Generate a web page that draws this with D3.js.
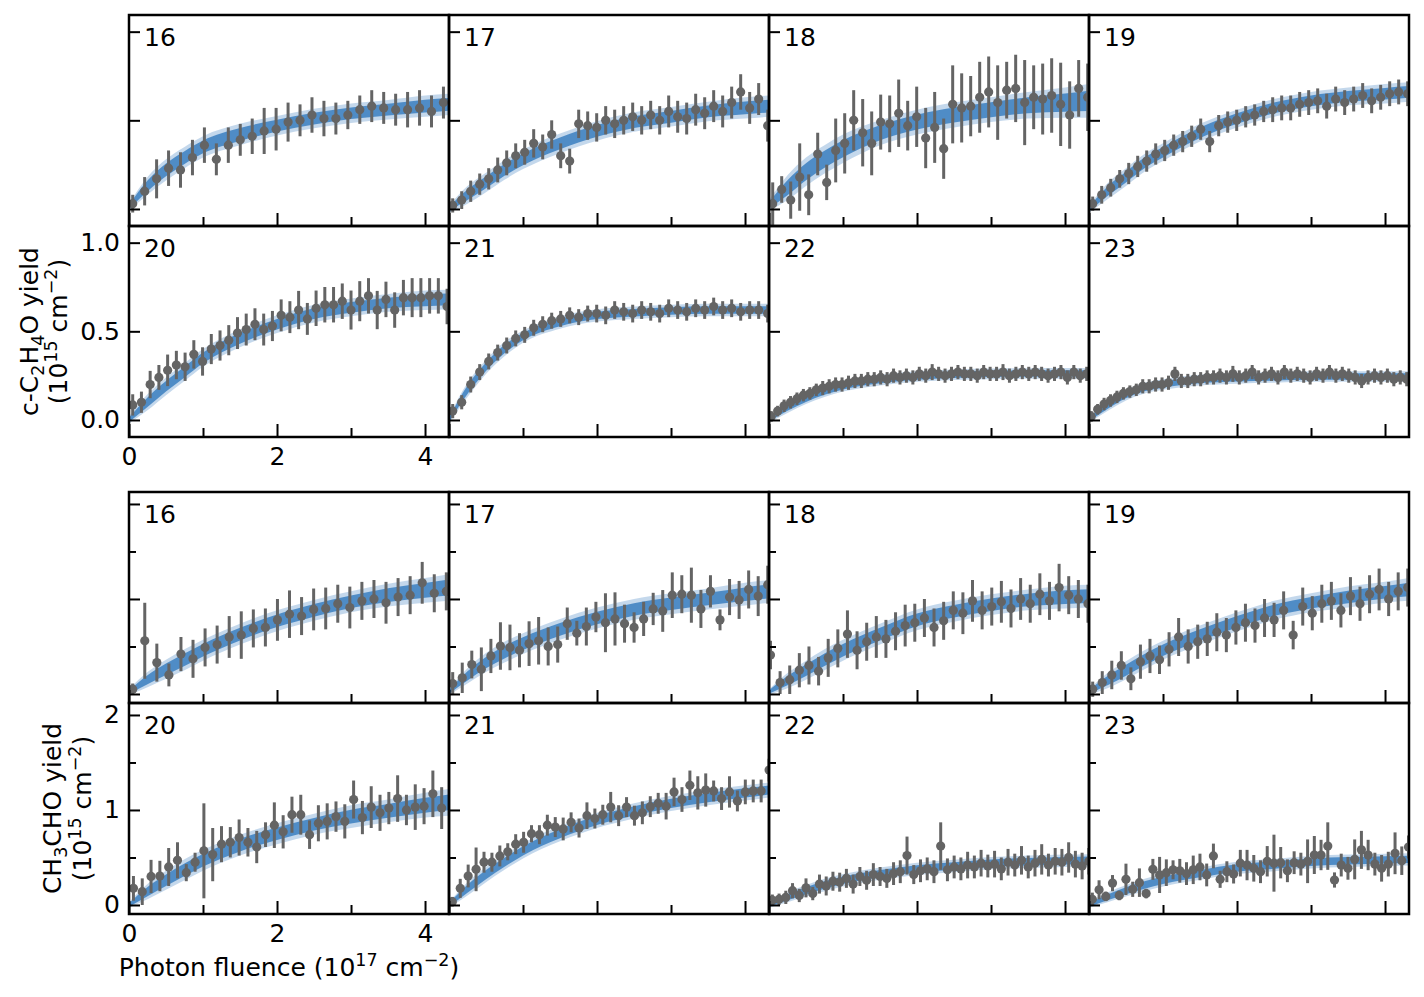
<!DOCTYPE html>
<meta charset="utf-8">
<script src="https://d3js.org/d3.v7.min.js"></script>
<style>
body { margin: 0; background: #fff; }
text { font-family: "DejaVu Sans", sans-serif; fill: #000; }
</style>
<body>
<div id="my_dataviz"></div>
<script>
// panel labels
var panelNames = ["16", "17", "18", "19", "20", "21", "22", "23"];
// x positions where the fitted band is sampled
var fitKnots = [0, 0.25, 0.5, 0.75, 1, 1.5, 2, 2.5, 3, 3.5, 4, 4.32];

// ---- c-C2H4O yield ----
var c2h4oX0 = [0.05, 0.05, 0.05, 0.05, 0.05, 0.05, 0.03, 0.03];
var c2h4oStep = [0.1615, 0.1216, 0.1216, 0.1216, 0.118, 0.1216, 0.087, 0.087];
var c2h4oYield = [
  [0.03,0.10,0.17,0.23,0.22,0.29,0.36,0.28,0.36,0.39,0.41,0.44,0.45,0.49,0.50,0.53,0.51,0.51,0.53,0.56,0.58,0.57,0.56,0.56,0.57,0.55,0.60],
  [0.02,0.05,0.10,0.14,0.17,0.22,0.26,0.30,0.32,0.37,0.35,0.42,0.30,0.27,0.48,0.47,0.46,0.50,0.48,0.50,0.52,0.50,0.53,0.50,0.55,0.52,0.51,0.56,0.54,0.58,0.55,0.60,0.66,0.57,0.62,0.47],
  [0.03,0.11,0.05,0.18,0.08,0.31,0.15,0.33,0.37,0.50,0.43,0.37,0.49,0.48,0.54,0.47,0.52,0.40,0.46,0.34,0.59,0.57,0.58,0.63,0.66,0.60,0.67,0.68,0.60,0.63,0.62,0.64,0.59,0.53,0.68,0.63],
  [0.03,0.08,0.12,0.17,0.20,0.24,0.27,0.31,0.33,0.36,0.38,0.41,0.45,0.38,0.47,0.49,0.50,0.52,0.53,0.55,0.56,0.57,0.57,0.59,0.60,0.61,0.58,0.62,0.60,0.62,0.64,0.61,0.63,0.65,0.66,0.65],
  [0.085,0.10,0.20,0.24,0.28,0.31,0.30,0.37,0.33,0.40,0.42,0.45,0.49,0.51,0.54,0.51,0.53,0.59,0.58,0.62,0.57,0.63,0.65,0.65,0.67,0.62,0.67,0.70,0.62,0.68,0.62,0.69,0.69,0.69,0.70,0.70,0.64],
  [0.05,0.10,0.20,0.27,0.33,0.38,0.42,0.46,0.48,0.52,0.54,0.56,0.57,0.59,0.58,0.60,0.60,0.59,0.62,0.61,0.60,0.62,0.61,0.60,0.63,0.62,0.61,0.63,0.62,0.64,0.62,0.63,0.61,0.62,0.62,0.60],
  [0.02,0.05,0.08,0.10,0.12,0.14,0.15,0.17,0.18,0.19,0.20,0.20,0.21,0.22,0.22,0.23,0.23,0.24,0.23,0.25,0.24,0.25,0.24,0.26,0.25,0.27,0.26,0.25,0.26,0.27,0.26,0.26,0.25,0.27,0.26,0.26,0.27,0.25,0.26,0.27,0.26,0.27,0.26,0.25,0.26,0.27,0.24,0.27,0.25,0.26],
  [0.02,0.06,0.09,0.11,0.13,0.15,0.16,0.17,0.19,0.19,0.20,0.20,0.21,0.26,0.22,0.22,0.23,0.23,0.24,0.24,0.25,0.24,0.26,0.24,0.25,0.27,0.24,0.25,0.26,0.24,0.27,0.25,0.26,0.25,0.24,0.26,0.25,0.27,0.25,0.26,0.25,0.24,0.22,0.24,0.25,0.24,0.25,0.23,0.24,0.23]
];
var c2h4oErr = [
  [0.05,0.08,0.11,0.10,0.10,0.10,0.10,0.09,0.10,0.09,0.10,0.13,0.12,0.11,0.09,0.10,0.10,0.09,0.08,0.08,0.09,0.09,0.09,0.10,0.10,0.09,0.09],
  [0.04,0.05,0.06,0.06,0.06,0.07,0.07,0.07,0.07,0.08,0.07,0.08,0.07,0.07,0.08,0.08,0.08,0.08,0.08,0.08,0.08,0.08,0.08,0.08,0.09,0.09,0.09,0.09,0.09,0.09,0.09,0.09,0.10,0.09,0.09,0.09],
  [0.12,0.075,0.105,0.19,0.115,0.12,0.10,0.18,0.17,0.17,0.19,0.18,0.155,0.16,0.19,0.14,0.17,0.17,0.20,0.17,0.22,0.195,0.17,0.20,0.20,0.21,0.16,0.19,0.24,0.18,0.20,0.21,0.235,0.19,0.16,0.19],
  [0.04,0.05,0.05,0.05,0.06,0.06,0.06,0.06,0.06,0.06,0.06,0.06,0.06,0.06,0.06,0.06,0.06,0.06,0.06,0.06,0.07,0.07,0.07,0.07,0.07,0.07,0.07,0.07,0.07,0.07,0.07,0.07,0.07,0.07,0.07,0.07],
  [0.06,0.06,0.077,0.07,0.089,0.08,0.08,0.08,0.08,0.085,0.085,0.085,0.09,0.09,0.09,0.09,0.085,0.09,0.09,0.108,0.09,0.10,0.10,0.10,0.10,0.11,0.113,0.10,0.108,0.10,0.10,0.10,0.11,0.11,0.10,0.10,0.10],
  [0.04,0.04,0.045,0.045,0.045,0.045,0.045,0.045,0.045,0.045,0.045,0.045,0.045,0.045,0.045,0.045,0.05,0.05,0.05,0.05,0.05,0.05,0.05,0.05,0.05,0.05,0.05,0.05,0.05,0.05,0.05,0.05,0.05,0.05,0.05,0.05],
  [0.03,0.03,0.035,0.035,0.035,0.035,0.035,0.035,0.04,0.04,0.04,0.04,0.04,0.04,0.04,0.04,0.04,0.04,0.04,0.04,0.04,0.04,0.04,0.04,0.04,0.045,0.04,0.04,0.04,0.04,0.04,0.04,0.04,0.04,0.04,0.04,0.045,0.04,0.04,0.04,0.04,0.04,0.04,0.04,0.04,0.04,0.04,0.04,0.04,0.04],
  [0.03,0.03,0.035,0.035,0.035,0.035,0.035,0.035,0.04,0.04,0.04,0.04,0.04,0.04,0.04,0.04,0.04,0.04,0.04,0.04,0.04,0.04,0.045,0.04,0.04,0.04,0.04,0.04,0.04,0.04,0.04,0.04,0.04,0.04,0.04,0.04,0.04,0.04,0.04,0.04,0.04,0.04,0.04,0.04,0.04,0.04,0.04,0.04,0.04,0.04]
];
var c2h4oFitMid = [
  [0.01,0.13,0.22,0.29,0.35,0.42,0.47,0.51,0.54,0.56,0.58,0.59],
  [0.00,0.08,0.15,0.22,0.28,0.37,0.44,0.49,0.52,0.55,0.57,0.58],
  [0.02,0.12,0.21,0.28,0.34,0.43,0.49,0.53,0.56,0.585,0.60,0.61],
  [0.00,0.10,0.18,0.26,0.32,0.43,0.51,0.57,0.61,0.635,0.65,0.66],
  [0.00,0.10,0.19,0.27,0.35,0.46,0.54,0.60,0.635,0.66,0.675,0.68],
  [0.00,0.17,0.30,0.40,0.47,0.55,0.59,0.605,0.615,0.62,0.62,0.62],
  [0.00,0.07,0.12,0.16,0.19,0.225,0.245,0.255,0.26,0.262,0.263,0.263],
  [0.00,0.08,0.14,0.18,0.20,0.225,0.235,0.24,0.245,0.245,0.245,0.245]
];
var c2h4oFitHw = [
  [0.02,0.05,0.06,0.06,0.06,0.06,0.055,0.055,0.055,0.055,0.06,0.06],
  [0.02,0.05,0.055,0.055,0.055,0.055,0.055,0.055,0.055,0.055,0.06,0.06],
  [0.03,0.07,0.08,0.08,0.08,0.07,0.07,0.07,0.07,0.075,0.085,0.095],
  [0.02,0.045,0.05,0.05,0.05,0.05,0.05,0.05,0.05,0.05,0.055,0.055],
  [0.02,0.045,0.05,0.05,0.05,0.05,0.05,0.05,0.05,0.05,0.055,0.055],
  [0.02,0.04,0.04,0.04,0.035,0.035,0.035,0.035,0.035,0.035,0.035,0.035],
  [0.015,0.03,0.03,0.03,0.03,0.03,0.03,0.03,0.03,0.03,0.03,0.03],
  [0.015,0.03,0.03,0.03,0.03,0.03,0.03,0.03,0.03,0.03,0.03,0.03]
];

// ---- CH3CHO yield ----
var ch3choX0 = [0.05, 0.05, 0.02, 0.05, 0.06, 0.045, 0.045, 0.045];
var ch3choStep = [0.163, 0.129, 0.13, 0.129, 0.119, 0.107, 0.091, 0.0909];
var ch3choYield = [
  [0.05,0.56,0.33,0.20,0.42,0.37,0.49,0.52,0.60,0.62,0.69,0.70,0.78,0.84,0.82,0.89,0.90,0.95,0.91,0.98,1.00,0.96,1.02,1.04,1.17,1.06,1.08],
  [0.11,0.17,0.31,0.26,0.40,0.505,0.49,0.46,0.53,0.56,0.50,0.52,0.74,0.64,0.71,0.81,0.75,0.79,0.74,0.70,0.79,0.895,0.874,1.04,1.05,1.04,0.895,1.08,0.78,1.02,0.99,1.10,1.03,1.15],
  [0.41,0.12,0.15,0.25,0.30,0.24,0.38,0.48,0.63,0.46,0.55,0.60,0.58,0.66,0.72,0.75,0.80,0.70,0.77,0.88,0.85,0.98,0.88,0.92,0.97,0.90,1.00,0.95,1.05,0.98,1.12,1.04,1.00,0.95],
  [0.05,0.12,0.20,0.30,0.16,0.34,0.40,0.36,0.47,0.60,0.50,0.55,0.58,0.65,0.62,0.70,0.75,0.72,0.80,0.78,0.88,0.62,0.92,0.85,0.95,0.98,0.88,1.03,0.95,1.05,1.10,1.00,1.08,1.12],
  [0.175,0.14,0.30,0.305,0.40,0.47,0.34,0.45,0.57,0.53,0.64,0.66,0.71,0.66,0.61,0.74,0.84,0.77,0.95,0.95,0.74,0.86,0.88,0.93,0.88,1.11,0.92,1.03,0.97,1.02,1.12,1.00,1.03,1.04,1.17,1.02],
  [0.035,0.175,0.305,0.375,0.45,0.45,0.516,0.56,0.64,0.66,0.75,0.74,0.84,0.82,0.80,0.87,0.81,0.94,0.91,0.95,1.03,0.94,1.03,0.94,0.97,1.035,1.07,1.04,1.19,1.11,1.26,1.18,1.21,1.20,1.12,1.19,1.095,1.19,1.20,1.20,1.42],
  [0.05,0.06,0.08,0.15,0.10,0.18,0.12,0.22,0.20,0.25,0.24,0.28,0.22,0.30,0.26,0.32,0.30,0.28,0.33,0.35,0.52,0.32,0.36,0.38,0.35,0.62,0.37,0.40,0.38,0.42,0.40,0.44,0.41,0.43,0.38,0.45,0.42,0.47,0.40,0.44,0.48,0.42,0.46,0.45,0.50,0.43,0.41,0.46],
  [0.06,0.16,0.09,0.23,0.10,0.27,0.165,0.235,0.12,0.375,0.316,0.34,0.37,0.36,0.33,0.37,0.40,0.316,0.516,0.27,0.35,0.326,0.44,0.42,0.386,0.35,0.46,0.44,0.445,0.36,0.445,0.43,0.46,0.526,0.526,0.62,0.263,0.42,0.386,0.48,0.58,0.526,0.43,0.386,0.43,0.544,0.466,0.61]
];
var ch3choErr = [
  [0.06,0.40,0.20,0.12,0.18,0.20,0.20,0.20,0.22,0.25,0.20,0.20,0.22,0.25,0.20,0.22,0.22,0.20,0.22,0.20,0.20,0.22,0.20,0.20,0.22,0.20,0.20],
  [0.12,0.16,0.146,0.23,0.18,0.25,0.24,0.18,0.235,0.25,0.20,0.19,0.17,0.13,0.20,0.16,0.31,0.28,0.20,0.16,0.18,0.17,0.22,0.24,0.20,0.29,0.20,0.17,0.11,0.19,0.20,0.20,0.21,0.20],
  [0.15,0.12,0.15,0.18,0.2,0.15,0.2,0.2,0.25,0.2,0.2,0.22,0.2,0.2,0.22,0.2,0.2,0.2,0.2,0.2,0.22,0.22,0.2,0.2,0.22,0.2,0.22,0.2,0.22,0.2,0.25,0.2,0.2,0.2],
  [0.08,0.12,0.15,0.15,0.12,0.18,0.18,0.15,0.18,0.2,0.18,0.18,0.18,0.2,0.18,0.18,0.2,0.18,0.2,0.18,0.2,0.15,0.2,0.18,0.2,0.2,0.18,0.2,0.18,0.2,0.22,0.18,0.2,0.2],
  [0.13,0.14,0.175,0.16,0.20,0.19,0.09,0.10,0.50,0.28,0.19,0.16,0.19,0.15,0.17,0.13,0.24,0.175,0.19,0.21,0.15,0.19,0.19,0.16,0.18,0.20,0.175,0.22,0.19,0.17,0.245,0.16,0.24,0.19,0.245,0.22],
  [0.05,0.10,0.12,0.23,0.11,0.10,0.11,0.09,0.105,0.11,0.09,0.10,0.11,0.105,0.12,0.105,0.10,0.14,0.105,0.105,0.16,0.11,0.105,0.105,0.12,0.11,0.11,0.14,0.15,0.13,0.155,0.175,0.175,0.11,0.12,0.165,0.11,0.13,0.12,0.12,0.12],
  [0.06,0.06,0.07,0.08,0.07,0.1,0.07,0.1,0.1,0.1,0.1,0.1,0.1,0.1,0.1,0.12,0.1,0.1,0.12,0.12,0.2,0.1,0.12,0.12,0.12,0.25,0.12,0.12,0.12,0.14,0.12,0.14,0.12,0.14,0.12,0.14,0.12,0.15,0.12,0.14,0.16,0.12,0.14,0.14,0.16,0.14,0.14,0.14],
  [0.07,0.10,0.05,0.085,0.05,0.165,0.08,0.15,0.05,0.11,0.19,0.14,0.10,0.125,0.12,0.15,0.14,0.12,0.13,0.09,0.11,0.10,0.14,0.16,0.14,0.12,0.16,0.30,0.165,0.12,0.12,0.12,0.23,0.20,0.16,0.25,0.08,0.12,0.12,0.21,0.20,0.16,0.12,0.14,0.13,0.22,0.15,0.12]
];
var ch3choFitMid = [
  [0.02,0.15,0.26,0.36,0.46,0.63,0.77,0.88,0.97,1.04,1.09,1.12],
  [0.02,0.19,0.33,0.44,0.53,0.68,0.80,0.89,0.95,1.00,1.05,1.08],
  [0.02,0.14,0.25,0.36,0.46,0.63,0.78,0.87,0.94,0.99,1.02,1.03],
  [0.02,0.14,0.25,0.36,0.46,0.62,0.76,0.88,0.96,1.02,1.07,1.10],
  [0.00,0.14,0.26,0.37,0.47,0.63,0.75,0.85,0.93,0.99,1.05,1.08],
  [0.00,0.17,0.32,0.45,0.57,0.75,0.89,0.99,1.07,1.13,1.18,1.21],
  [0.00,0.08,0.15,0.21,0.26,0.33,0.38,0.41,0.44,0.455,0.465,0.47],
  [0.00,0.08,0.15,0.21,0.26,0.33,0.39,0.42,0.45,0.465,0.475,0.48]
];
var ch3choFitHw = [
  [0.03,0.08,0.10,0.11,0.11,0.11,0.11,0.11,0.11,0.12,0.13,0.14],
  [0.03,0.08,0.10,0.11,0.11,0.11,0.11,0.11,0.11,0.11,0.12,0.12],
  [0.03,0.08,0.10,0.11,0.11,0.11,0.11,0.11,0.11,0.11,0.12,0.12],
  [0.03,0.08,0.095,0.10,0.10,0.10,0.10,0.10,0.10,0.11,0.11,0.12],
  [0.03,0.08,0.10,0.11,0.11,0.11,0.11,0.11,0.12,0.12,0.13,0.14],
  [0.03,0.07,0.08,0.08,0.08,0.08,0.08,0.08,0.08,0.08,0.08,0.08],
  [0.03,0.05,0.06,0.065,0.065,0.065,0.065,0.065,0.065,0.065,0.065,0.065],
  [0.03,0.05,0.06,0.065,0.065,0.065,0.065,0.065,0.065,0.065,0.065,0.065]
];

// tick values
var xMajorTicks = [0, 2, 4];
var xMinorTicks = [1, 3];
var c2h4oMajorTicks = [0, 0.5, 1.0];
var ch3choMajorTicks = [0, 1, 2];
var ch3choMinorTicks = [0.5, 1.5];

// layout
var panelLeft = 129, panelW = 320, panelH = 211;
var groupTop = [15, 492];
var dataColor = "#646464", fitColor = "#3b7fc0";
var fontSize = 25, subSize = 17.5;

var svg = d3.select("#my_dataviz").append("svg")
  .attr("width", 1424).attr("height", 997)
  .style("background", "#fff");

var x = d3.scaleLinear().domain([0, 4.324]).range([0, panelW]);
var yTop = d3.scaleLinear().domain([-0.096, 1.094]).range([panelH, 0]);
var yBot = d3.scaleLinear().domain([-0.095, 2.126]).range([panelH, 0]);

svg.append("defs").append("clipPath").attr("id", "panelClip")
  .append("rect").attr("width", panelW).attr("height", panelH);

function drawPanel(gx, gy, idx, y, x0, step, vals, errs, fitMid, fitHw, majorY, minorY, yFmt) {
  var g = svg.append("g").attr("transform", "translate(" + gx + "," + gy + ")");
  var inner = g.append("g").attr("clip-path", "url(#panelClip)");

  var pts = vals.map(function(v, i) { return {x: x0 + i * step, y: v, e: errs[i]}; });
  var fit = fitKnots.map(function(k, i) { return {x: k, m: fitMid[i], h: fitHw[i]}; });

  // fitted band: soft outer spread and denser core
  inner.append("path").datum(fit)
    .attr("fill", fitColor).attr("opacity", 0.3)
    .attr("d", d3.area().curve(d3.curveMonotoneX)
      .x(function(d) { return x(d.x); })
      .y0(function(d) { return y(d.m - d.h); })
      .y1(function(d) { return y(d.m + d.h); }));
  inner.append("path").datum(fit)
    .attr("fill", fitColor).attr("opacity", 0.85)
    .attr("d", d3.area().curve(d3.curveMonotoneX)
      .x(function(d) { return x(d.x); })
      .y0(function(d) { return y(d.m - d.h * 0.6); })
      .y1(function(d) { return y(d.m + d.h * 0.6); }));

  // error bars and points
  inner.selectAll(".ebar").data(pts).enter().append("line")
    .attr("x1", function(d) { return x(d.x); })
    .attr("x2", function(d) { return x(d.x); })
    .attr("y1", function(d) { return y(d.y - d.e); })
    .attr("y2", function(d) { return y(d.y + d.e); })
    .attr("stroke", dataColor).attr("stroke-width", 3);
  inner.selectAll(".pt").data(pts).enter().append("circle")
    .attr("cx", function(d) { return x(d.x); })
    .attr("cy", function(d) { return y(d.y); })
    .attr("r", 4.6).attr("fill", dataColor);

  var col = idx % 4, row = Math.floor(idx / 4);
  var showLabels = (col === 0 && row === 1);

  // y ticks (inside)
  g.append("g").call(d3.axisLeft(y).tickValues(majorY).tickSize(-11).tickPadding(9)
    .tickFormat(showLabels ? yFmt : function() { return ""; }));
  if (minorY) {
    g.append("g").call(d3.axisLeft(y).tickValues(minorY).tickSize(-7).tickFormat(function() { return ""; }));
  }
  // x ticks (inside)
  g.append("g").attr("transform", "translate(0," + panelH + ")")
    .call(d3.axisBottom(x).tickValues(xMajorTicks).tickSize(-13).tickPadding(10)
      .tickFormat(showLabels ? d3.format("d") : function() { return ""; }));
  g.append("g").attr("transform", "translate(0," + panelH + ")")
    .call(d3.axisBottom(x).tickValues(xMinorTicks).tickSize(-9).tickFormat(function() { return ""; }));

  g.selectAll(".domain").remove();
  g.selectAll(".tick line").attr("stroke", "#000").attr("stroke-width", 2);
  g.selectAll(".tick text").style("font-size", fontSize + "px").attr("fill", "#000");

  // frame
  g.append("rect").attr("width", panelW).attr("height", panelH)
    .attr("fill", "none").attr("stroke", "#000").attr("stroke-width", 2.5);

  // panel number
  g.append("text").attr("x", 15).attr("y", 31)
    .style("font-size", fontSize + "px").text(panelNames[idx]);
}

for (var i = 0; i < 8; i++) {
  var gx = panelLeft + (i % 4) * panelW;
  var gyA = groupTop[0] + Math.floor(i / 4) * panelH;
  var gyB = groupTop[1] + Math.floor(i / 4) * panelH;
  drawPanel(gx, gyA, i, yTop, c2h4oX0[i], c2h4oStep[i], c2h4oYield[i], c2h4oErr[i],
    c2h4oFitMid[i], c2h4oFitHw[i], c2h4oMajorTicks, null, d3.format(".1f"));
  drawPanel(gx, gyB, i, yBot, ch3choX0[i], ch3choStep[i], ch3choYield[i], ch3choErr[i],
    ch3choFitMid[i], ch3choFitHw[i], ch3choMajorTicks, ch3choMinorTicks, d3.format("d"));
}

// y axis labels (two lines, rotated)
function yLabel(cy, base1, base2, first) {
  var t = svg.append("g").attr("transform", "translate(0," + cy + ") rotate(-90)");
  var t1 = t.append("text").attr("x", 0).attr("y", base1).attr("text-anchor", "middle").style("font-size", fontSize + "px");
  first(t1);
  var t2 = t.append("text").attr("x", 0).attr("y", base2).attr("text-anchor", "middle").style("font-size", fontSize + "px");
  t2.append("tspan").text("(10");
  t2.append("tspan").attr("dy", -10).style("font-size", subSize + "px").text("15");
  t2.append("tspan").attr("dy", 10).text(" cm");
  t2.append("tspan").attr("dy", -10).style("font-size", subSize + "px").text("\u22122");
  t2.append("tspan").attr("dy", 10).text(")");
}
yLabel(groupTop[0] + panelH * 1.5, 38, 67, function(t) {
  t.append("tspan").text("c-C");
  t.append("tspan").attr("dy", 6).style("font-size", subSize + "px").text("2");
  t.append("tspan").attr("dy", -6).text("H");
  t.append("tspan").attr("dy", 6).style("font-size", subSize + "px").text("4");
  t.append("tspan").attr("dy", -6).text("O yield");
});
yLabel(groupTop[1] + panelH * 1.5, 61, 91, function(t) {
  t.append("tspan").text("CH");
  t.append("tspan").attr("dy", 6).style("font-size", subSize + "px").text("3");
  t.append("tspan").attr("dy", -6).text("CHO yield");
});

// x axis label
var xl = svg.append("text").attr("x", panelLeft + panelW / 2).attr("y", 976)
  .attr("text-anchor", "middle").style("font-size", fontSize + "px");
xl.append("tspan").text("Photon fluence (10");
xl.append("tspan").attr("dy", -10).style("font-size", subSize + "px").text("17");
xl.append("tspan").attr("dy", 10).text(" cm");
xl.append("tspan").attr("dy", -10).style("font-size", subSize + "px").text("\u22122");
xl.append("tspan").attr("dy", 10).text(")");
</script>
</body>
